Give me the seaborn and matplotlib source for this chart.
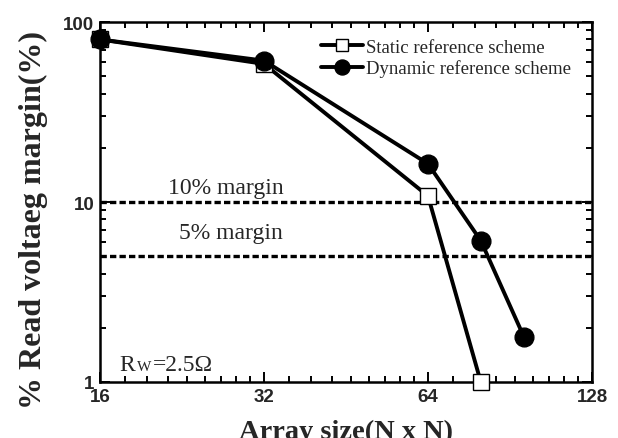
import numpy as np
import pandas as pd
import matplotlib
matplotlib.use("Agg")
import matplotlib.pyplot as plt
from matplotlib.ticker import FixedLocator, NullFormatter
import seaborn as sns

# ---- data ----
static_x = [16, 32, 64, 80]
static_y = [80, 58.5, 10.8, 1.0]
dynamic_x = [16, 32, 64, 80, 96]
dynamic_y = [80, 61, 16.3, 6.1, 1.78]
margin_levels = [10, 5]
margin_labels = ["10% margin", "5% margin"]
x_ticks = [16, 32, 64, 128]
y_ticks = [1, 10, 100]
series_names = ["Static reference scheme", "Dynamic reference scheme"]

sns.set_theme(style="white")
plt.rcParams['font.family'] = ['Liberation Serif', 'DejaVu Serif']

fig = plt.figure(figsize=(6.18, 4.39), dpi=100)
ax = fig.add_axes([100/618, 1-383/439, (592-100)/618, (383-23)/439])

df_s = pd.DataFrame({"x": static_x, "y": static_y})
df_d = pd.DataFrame({"x": dynamic_x, "y": dynamic_y})

sns.lineplot(data=df_s, x="x", y="y", ax=ax, color="black", lw=2.8,
             marker="s", markersize=11.5, markerfacecolor="white",
             markeredgecolor="black", markeredgewidth=1.0,
             label=series_names[0], zorder=3, clip_on=False)
sns.lineplot(data=df_d, x="x", y="y", ax=ax, color="black", lw=2.8,
             marker="o", markersize=13.5, markerfacecolor="black",
             markeredgecolor="black", markeredgewidth=1.0,
             label=series_names[1], zorder=3, clip_on=False)

for lv in margin_levels:
    ax.axhline(lv, color="black", lw=2.4, ls=(0, (1.9, 0.95)), zorder=2)

ax.set_xscale("log", base=2)
ax.set_yscale("log")
ax.set_xlim(16, 128)
ax.set_ylim(1, 100)

ax.xaxis.set_major_locator(FixedLocator(x_ticks))
ax.set_xticklabels([str(t) for t in x_ticks])
minor_x = [b * (1 + k / 9) for b in [16, 32, 64] for k in range(1, 9)]
ax.xaxis.set_minor_locator(FixedLocator(minor_x))
ax.xaxis.set_minor_formatter(NullFormatter())

ax.yaxis.set_major_locator(FixedLocator(y_ticks))
ax.set_yticklabels([str(t) for t in y_ticks])
minor_y = [d * m for d in [1, 10] for m in range(2, 10)]
ax.yaxis.set_minor_locator(FixedLocator(minor_y))
ax.yaxis.set_minor_formatter(NullFormatter())

for lab in ax.get_xticklabels() + ax.get_yticklabels():
    lab.set_fontfamily("Liberation Sans")
    lab.set_fontweight("bold")
    lab.set_fontsize(13.5)

ax.tick_params(which="both", direction="in", top=True, right=True,
               bottom=True, left=True, color="black", width=1.4)
ax.tick_params(which="major", length=7, pad=4)
ax.tick_params(which="minor", length=4)
ax.tick_params(axis="y", which="major", pad=4)

for sp in ax.spines.values():
    sp.set_color("black")
    sp.set_linewidth(1.8)

ax.set_xlabel("Array size(N x N)", fontsize=20.5, fontweight="bold")
ax.xaxis.set_label_coords(0.5, -0.103)
ax.xaxis.label.set_va("top")
ax.set_ylabel("% Read voltaeg margin(%)", fontsize=23, fontweight="bold")
ax.yaxis.set_label_coords(-0.136, 0.453)
ax.yaxis.label.set_va("center")

# annotations
ax.text(0.138, 0.525, margin_labels[0], transform=ax.transAxes, fontsize=17, ha="left", va="baseline")
ax.text(0.16, 0.40, margin_labels[1], transform=ax.transAxes, fontsize=17, ha="left", va="baseline")
ax.text(0.04, 0.033, "R", transform=ax.transAxes, fontsize=17, ha="left", va="baseline")
ax.text(0.075, 0.033, "W", transform=ax.transAxes, fontsize=11, ha="left", va="baseline")
ax.text(0.107, 0.033, "=2.5Ω", transform=ax.transAxes, fontsize=17, ha="left", va="baseline")

leg = ax.legend(loc="upper right", bbox_to_anchor=(0.985, 0.99), frameon=False,
                fontsize=13.5, handlelength=2.2, handletextpad=0.2,
                labelspacing=0.2, markerscale=0.8, borderaxespad=0.3)

fig.savefig("out.png", dpi=100)
